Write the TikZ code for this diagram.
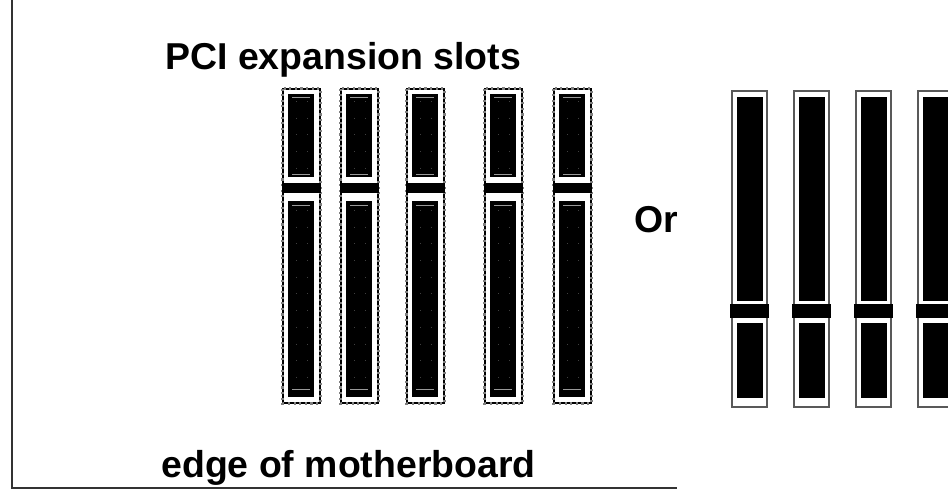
\documentclass[tikz,border=0pt]{standalone}
\usepackage{fontspec}
\setmainfont{Liberation Sans}
\definecolor{rimgray}{gray}{0.35}
\definecolor{markgray}{gray}{0.6}
\tikzset{
	wholerim/.style={draw=rimgray,line width=1.5pt,fill=white},
	contact/.style={fill=black},
	crossbar/.style={fill=black},
	slotmark/.style={draw=markgray,line width=0.45pt},
	slotpin/.style={draw=black!75,line width=0.4pt,dash pattern=on 0.5pt off 9pt},
	caption/.style={font=\fontsize{21.3pt}{24pt}\selectfont\bfseries,anchor=base west,inner sep=0pt},
}
\begin{document}
\begin{tikzpicture}[x=0.02cm,y=-0.02cm]
	\useasboundingbox (0,0) rectangle (948,491);
	% motherboard edge
	\draw[black!80,line width=1.1pt] (12,0) -- (12,488) -- (677,488);
	% labels
	\node[caption] (slotstitle) at (165,69) {PCI expansion slots};
	\node[caption] (edgetitle) at (161,477) {edge of motherboard};
	\node[caption] (ortitle) at (634,232) {Or};
	% PCI slots
	\foreach \px in {283,341,407,485,554} {
		\draw[black,line width=1.2pt,fill=white] (\px,89) rectangle (\px+37,403);
		\draw[gray,line width=1.2pt,dotted] (\px-0.5,88.5) rectangle (\px+37.5,403.5);
		\fill[contact] (\px+5,94) rectangle (\px+31,177);
		\fill[contact] (\px+5,201) rectangle (\px+31,397);
		\fill[crossbar] (\px-1,183) rectangle (\px+38,193);
		\draw[slotmark] (\px+9,97) -- (\px+27,97);
		\draw[slotmark] (\px+9,174) -- (\px+27,174);
		\draw[slotmark] (\px+9,205) -- (\px+27,205);
		\draw[slotmark] (\px+9,389) -- (\px+27,389);
		\draw[slotpin] (\px+13,101) -- (\px+13,171);
		\draw[slotpin] (\px+24,101) -- (\px+24,171);
		\draw[slotpin] (\px+13,210) -- (\px+13,385);
		\draw[slotpin] (\px+24,210) -- (\px+24,385);
	}
	% the other slots
	\foreach \px in {732,794,856,918} {
		\draw[wholerim] (\px,91) rectangle (\px+35,407);
		\fill[contact] (\px+5,97) rectangle (\px+31,301);
		\fill[contact] (\px+5,323) rectangle (\px+31,398);
		\fill[crossbar] (\px-2,304) rectangle (\px+37,318);
	}
\end{tikzpicture}
\end{document}
